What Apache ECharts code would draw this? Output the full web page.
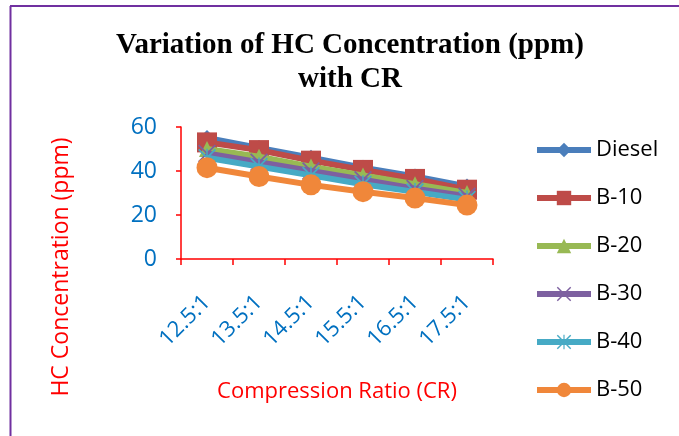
<!DOCTYPE html>
<html>
<head>
<meta charset="utf-8">
<script src="https://cdn.jsdelivr.net/npm/echarts@6/dist/echarts.min.js"></script>
<style>html,body{margin:0;padding:0;background:#fff}#c{width:679px;height:436px}</style>
</head>
<body>
<div id="c"></div>
<script>
const categories = ['12.5:1','13.5:1','14.5:1','15.5:1','16.5:1','17.5:1'];
const seriesNames = ['Diesel','B-10','B-20','B-30','B-40','B-50'];
const diesel = [55, 50.5, 46, 41.5, 37.5, 33];
const b10 = [53, 49.5, 44.7, 40.5, 36.4, 31.5];
const b20 = [50, 46.5, 42, 38, 34, 30];
const b30 = [48, 44, 40, 36, 32, 28.5];
const b40 = [46, 42, 38, 34, 30.5, 27];
const b50 = [41.5, 37.5, 33.7, 30.6, 27.7, 24.5];
const yTicks = [0, 20, 40, 60];

const colors = ['#4A7EBB','#BE4B48','#98B954','#7D60A0','#46AAC5','#F0873A'];
const xPath = 'path://M0,1.4L1.4,0L10,8.6L18.6,0L20,1.4L11.4,10L20,18.6L18.6,20L10,11.4L1.4,20L0,18.6L8.6,10Z';
const starPath = 'path://M0,1.4L1.4,0L10,8.6L18.6,0L20,1.4L11.4,10L20,18.6L18.6,20L10,11.4L1.4,20L0,18.6L8.6,10Z M9.2,0L10.8,0L10.8,20L9.2,20Z';
const symbols = ['diamond','rect','triangle',xPath,starPath,'circle'];
const sizes = [16, 20, 16, 18, 18, 21];
const dataSets = [diesel,b10,b20,b30,b40,b50];

const chart = echarts.init(document.getElementById('c'));
const font = '"Open Sans", sans-serif';
chart.setOption({
  animation: false,
  backgroundColor: '#fff',
  legend: {
    orient: 'vertical', left: 534, top: 135, padding: 0,
    itemWidth: 54, itemHeight: 18, itemGap: 18,
    lineStyle: {width: 6},
    textStyle: {fontFamily: font, fontSize: 22, color: '#000', lineHeight: 30, padding: [0,0,0,0]},
    data: seriesNames
  },
  grid: {left: 181, right: 186, top: 127, bottom: 177, containLabel: false},
  xAxis: {
    type: 'category', data: categories, boundaryGap: true,
    axisLine: {lineStyle: {color: '#FF0000', width: 1.5}},
    axisTick: {show: true, length: 6, lineStyle: {color: '#FF0000', width: 1.5}},
    axisLabel: {rotate: 45, margin: 40, fontFamily: font, fontSize: 22, color: '#0070C0'},
    name: 'Compression Ratio (CR)', nameLocation: 'middle', nameGap: 122,
    nameTextStyle: {fontFamily: font, fontSize: 22, color: '#FF0000'}
  },
  yAxis: {
    type: 'value', min: yTicks[0], max: yTicks[yTicks.length-1], interval: 20,
    splitLine: {show: false},
    axisLine: {show: true, lineStyle: {color: '#FF0000', width: 1.5}},
    axisTick: {show: true, length: 5, lineStyle: {color: '#FF0000', width: 1.5}},
    axisLabel: {margin: 24, fontFamily: font, fontSize: 23, color: '#0070C0'}
  },
  graphic: [
    {type: 'line', shape: {x1: 10.5, y1: 6, x2: 10.5, y2: 436}, style: {stroke: '#7030A0', lineWidth: 2}},
    {type: 'line', shape: {x1: 10, y1: 6, x2: 679, y2: 6}, style: {stroke: '#7030A0', lineWidth: 2}},
    {type: 'text', x: 350, y: 29,
     style: {text: 'Variation of HC Concentration (ppm)\nwith CR', font: 'bold 29px "Liberation Serif", serif', lineHeight: 34, fill: '#000', align: 'center', verticalAlign: 'top'}},
    {type: 'text', x: 61, y: 267, rotation: Math.PI / 2,
     style: {text: 'HC Concentration (ppm)', font: '23px "Open Sans", sans-serif', fill: '#FF0000', align: 'center', verticalAlign: 'middle'}}
  ],
  series: seriesNames.map((n, i) => ({
    name: n, type: 'line', data: dataSets[i],
    symbol: symbols[i], symbolSize: sizes[i],
    lineStyle: {width: 6, color: colors[i]},
    itemStyle: {color: colors[i]},
    z: 2 + i
  }))
});
</script>
</body>
</html>
